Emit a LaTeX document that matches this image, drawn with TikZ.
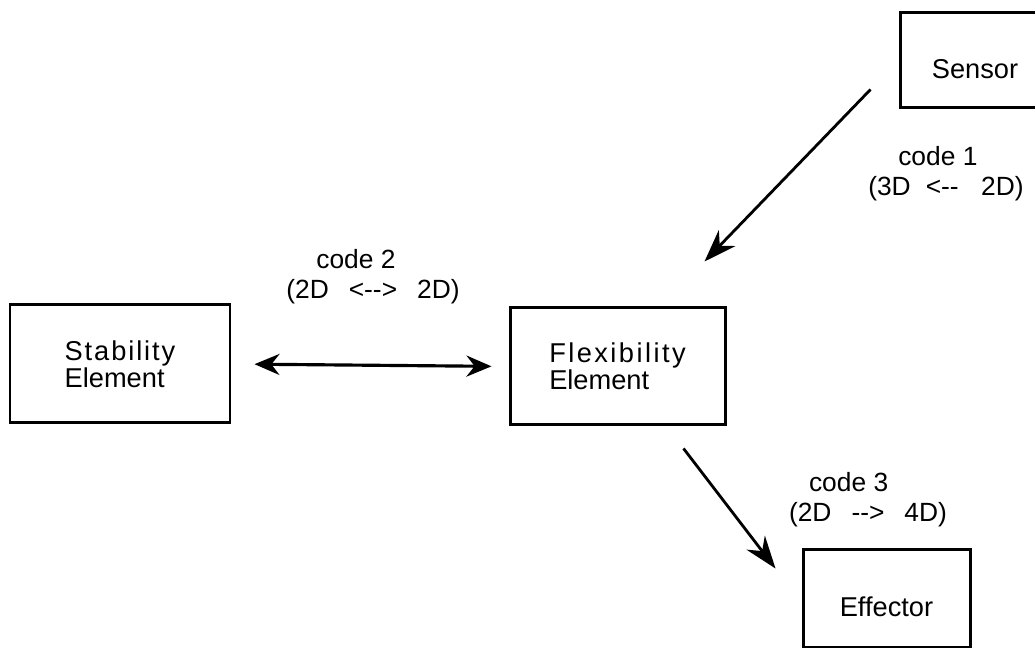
\documentclass[tikz,border=0pt]{standalone}
\usepackage{fontspec}
\setmainfont{Liberation Sans}
\usetikzlibrary{arrows.meta,positioning}

\begin{document}
\begin{tikzpicture}[>={Stealth[length=6.5mm,width=4.6mm]}]
  \tikzstyle{box}=[draw,line width=1.7pt,align=left,font=\fontsize{15.5}{13.7}\selectfont]
  \tikzstyle{code}=[align=left,font=\fontsize{15}{17}\selectfont]
  \tikzstyle{link}=[->,line width=1.6pt]
  \useasboundingbox (0,0) rectangle (20.7,13);
  \node[box,minimum width=4.4cm,minimum height=2.36cm] (stab) at (2.4,5.72)
    {{\addfontfeature{LetterSpace=7}Stability}\\Element};
  \node[box,minimum width=4.3cm,minimum height=2.34cm] (flex) at (12.35,5.67)
    {{\addfontfeature{LetterSpace=9}Flexibility}\\Element};
  \node[box,minimum width=3.0cm,minimum height=1.9cm,text height=0.73cm,text depth=0pt] (sensor) at (19.5,11.79) {Sensor};
  \node[box,minimum width=3.34cm,minimum height=1.94cm,text height=0.73cm,text depth=0pt] (effector) at (17.73,1.03) {Effector};
  \node[code] (code1) at (18.92,9.52) {\hspace*{0.6cm}code 1\\(3D\hspace{0.3cm}<-{}-\hspace{0.45cm}2D)};
  \node[code] (code2) at (7.46,7.47) {\hspace*{0.6cm}code 2\\(2D\hspace{0.4cm}<-{}->\hspace{0.4cm}2D)};
  \node[code] (code3) at (17.36,3.0) {\hspace*{0.4cm}code 3\\(2D\hspace{0.4cm}-{}->\hspace{0.4cm}4D)};
  \draw[link] ([xshift=-0.56cm,yshift=0.4cm]sensor.south west) -- ([xshift=-0.44cm,yshift=0.9cm]flex.north east);
  \draw[link,<->,>={Stealth[length=5mm,width=4.2mm]},line width=1.8pt,shorten <=0.46cm,shorten >=0.34cm] (stab.east) -- (flex.west);
  \draw[link] ([xshift=-0.86cm,yshift=-0.44cm]flex.south east) -- ([xshift=-0.52cm,yshift=-0.4cm]effector.north west);
\end{tikzpicture}
\end{document}
